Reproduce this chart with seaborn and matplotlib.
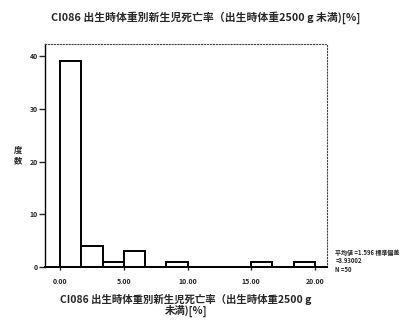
import numpy as np
import matplotlib
matplotlib.use("Agg")
import matplotlib.pyplot as plt
import seaborn as sns

# histogram data (12 bins from 0 to 20)
bin_edges = [0, 1.667, 3.333, 5.0, 6.667, 8.333, 10.0, 11.667, 13.333, 15.0, 16.667, 18.333, 20.0]
counts = [39, 4, 1, 3, 0, 1, 0, 0, 0, 1, 0, 1]
x_ticks = [0, 5, 10, 15, 20]
x_tick_labels = ["0.00", "5.00", "10.00", "15.00", "20.00"]
y_ticks = [0, 10, 20, 30, 40]

title = "CI086 出生時体重別新生児死亡率（出生時体重2500 g 未満)[%]"
x_label = "CI086 出生時体重別新生児死亡率（出生時体重2500 g\n未満)[%]"
y_label = "度\n数"
stats_text = "平均値 =1.596 標準偏差\n=3.93002\nN =50"

sns.set_style("white")
plt.rcParams["font.family"] = ["Noto Sans CJK JP", "DejaVu Sans"]

centers = [(a + b) / 2 for a, b in zip(bin_edges[:-1], bin_edges[1:])]

fig = plt.figure(figsize=(4.15, 3.22), dpi=100)
ax = fig.add_axes([0.108, 0.17, 0.68, 0.693])

sns.histplot(x=centers, weights=counts, bins=bin_edges, ax=ax,
             color="white", edgecolor="black", linewidth=1.4, alpha=1)

ax.set_xlim(-1.2, 20.95)
ax.set_ylim(0, 42.2)
ax.set_xticks(x_ticks)
ax.set_xticklabels(x_tick_labels, fontsize=5, fontweight="bold")
ax.set_yticks(y_ticks)
ax.set_yticklabels([str(v) for v in y_ticks], fontsize=5, fontweight="bold")
ax.tick_params(axis="y", direction="out", length=4, width=1, pad=1, left=True)
ax.tick_params(axis="x", direction="out", length=2, width=1, pad=6, bottom=True)

for side in ["top", "right"]:
    ax.spines[side].set_linestyle(":")
    ax.spines[side].set_color("#444444")
    ax.spines[side].set_linewidth(0.8)
ax.spines["left"].set_color("black")
ax.spines["left"].set_linewidth(1.0)
ax.spines["bottom"].set_color("black")
ax.spines["bottom"].set_linewidth(1.4)

ax.set_ylabel(y_label, rotation=0, fontsize=6, fontweight="bold", labelpad=8, va="center")
ax.set_xlabel(x_label, fontsize=7.5, fontweight="bold", labelpad=6, linespacing=1.05)
fig.suptitle(title, x=0.495, y=0.965, fontsize=7.8, fontweight="bold")

fig.text(0.808, 0.19, stats_text, fontsize=4.3, fontweight="bold", va="center", linespacing=1.3)

fig.savefig("out.png", dpi=100)
